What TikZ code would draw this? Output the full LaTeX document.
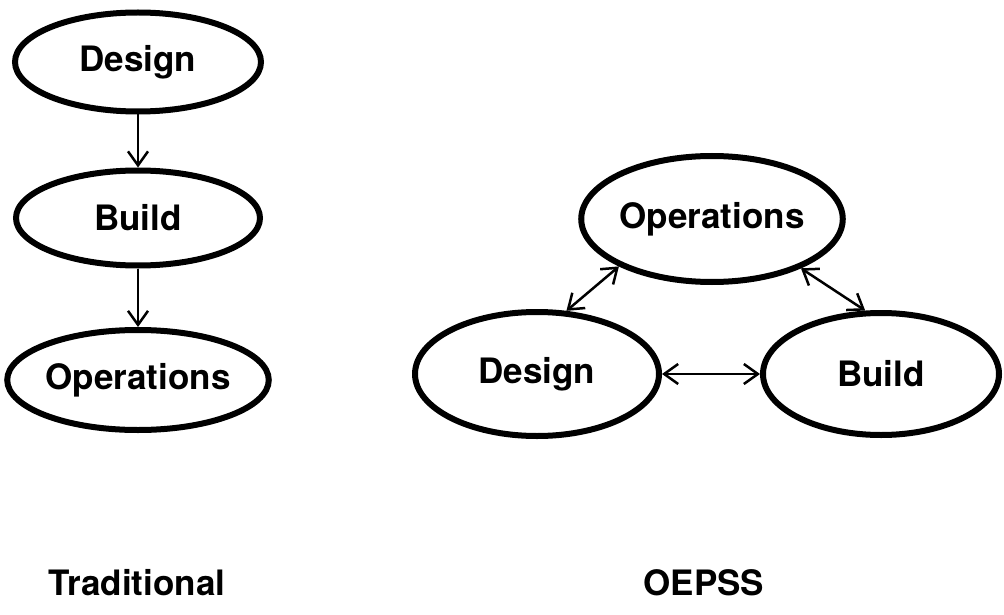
\documentclass[tikz,border=0pt]{standalone}
\usepackage{fontspec}
\setmainfont{TeX Gyre Heros}
\usepackage{tikz}
\usetikzlibrary{shapes.geometric}
\usetikzlibrary{arrows.meta}

\begin{document}
\begin{tikzpicture}[x=1pt,y=-1pt,
        oval/.style={ellipse,draw,line width=6pt,inner sep=0pt,font=\fontsize{35}{40}\selectfont\bfseries},
        flow/.style={line width=2.5pt,-{Straight Barb[length=14pt,width=20pt,line width=2.5pt]}},
        both/.style={line width=2.5pt,{Straight Barb[length=14pt,width=20pt,line width=2.5pt]}-{Straight Barb[length=14pt,width=20pt,line width=2.5pt]}},
        caption/.style={font=\fontsize{35}{40}\selectfont\bfseries}]
    \useasboundingbox (0,0) rectangle (1004,615);

    % traditional sequence
    \node[oval,minimum width=246pt,minimum height=99pt] (tdesign) at (138,62) {Design};
    \node[oval,minimum width=244pt,minimum height=95pt] (tbuild) at (138,218) {Build};
    \node[oval,minimum width=252pt,minimum height=100pt] (tops) at (138,380) {Operations};
    \draw[flow] (tdesign.south)--(tbuild.north);
    \draw[flow] (tbuild.south)--(tops.north);
    \node[caption] (tcap) at (137,583) {Traditional};

    % OEPSS cycle
    \node[oval,minimum width=244pt,minimum height=126pt] (oops) at (712,219) {Operations};
    \node[oval,minimum width=244pt,minimum height=124pt] (odesign) at (537,374) {Design};
    \node[oval,minimum width=236pt,minimum height=122pt] (obuild) at (881,374) {Build};
    \draw[both] (odesign.65)--(oops.207);
    \draw[both] (oops.331)--(obuild.104);
    \draw[both] (odesign.east)--(obuild.west);
    \node[caption] (ocap) at (704,583) {OEPSS};
\end{tikzpicture}
\end{document}
